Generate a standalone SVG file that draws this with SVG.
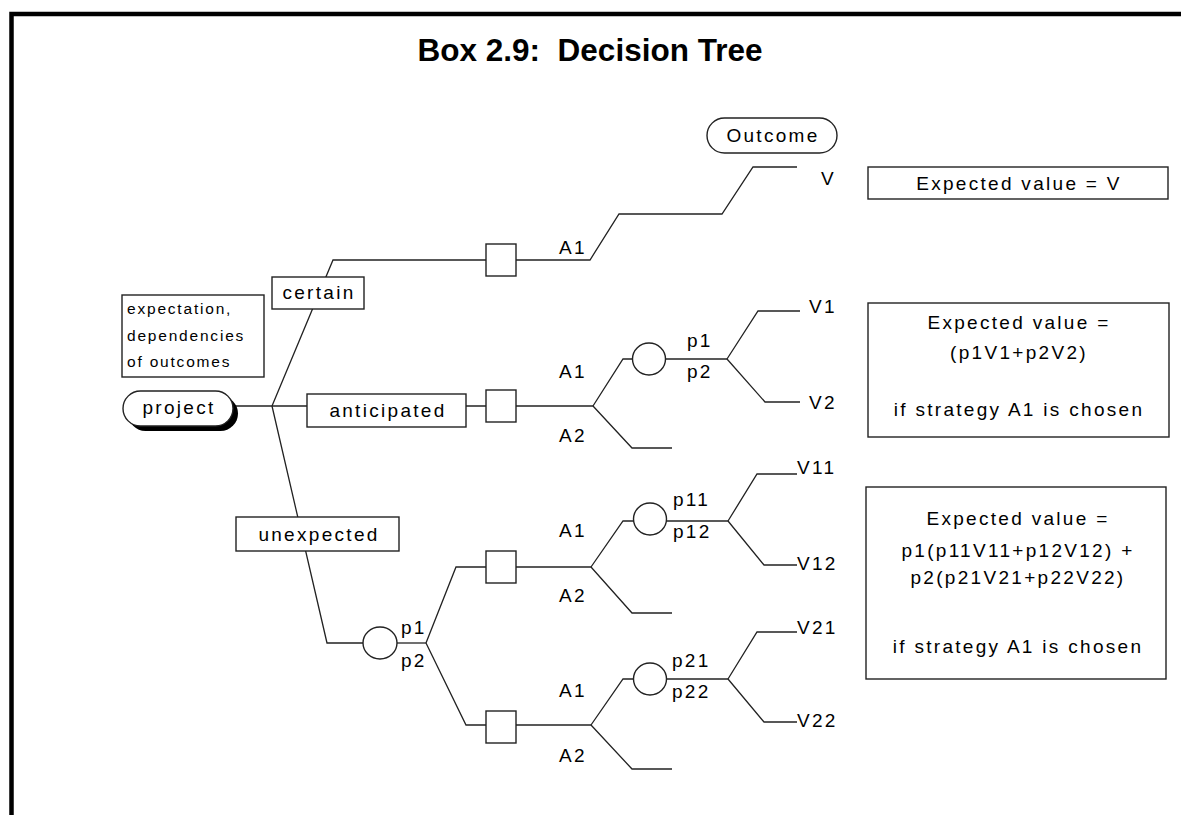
<svg xmlns="http://www.w3.org/2000/svg" width="1181" height="815" viewBox="0 0 1181 815">
<style>
.t{font-family:"Liberation Sans",Arial,sans-serif;font-size:19px;letter-spacing:2.3px;fill:#000}
.s{font-family:"Liberation Sans",Arial,sans-serif;font-size:15.5px;letter-spacing:1.8px;fill:#000}
.c{text-anchor:middle}
.title{font-family:"Liberation Sans",Arial,sans-serif;font-size:31.5px;font-weight:bold;text-anchor:middle;fill:#000}
.box{fill:#fff;stroke:#222;stroke-width:1.4}
.ln{fill:none;stroke:#222;stroke-width:1.3}
</style>
<rect x="0" y="0" width="1181" height="815" fill="#fff"/>
<path d="M11.5,815 V14 H1181" fill="none" stroke="#000" stroke-width="4.5"/>
<text class="title" x="590" y="61" xml:space="preserve">Box 2.9:  Decision Tree</text>

<g id="connectors" class="ln">
<path d="M235,406 H272"/>
<path d="M272,406 L333,260 H486"/>
<path d="M516,260 H590 L619,214 H722 L753,167 H797"/>
<path d="M272,406 H486"/>
<path d="M516,406 H593"/>
<path d="M593,406 L623,359 H633"/>
<path d="M593,406 L632,448 H672"/>
<path d="M665,359 H727"/>
<path d="M727,359 L758,311 H800"/>
<path d="M727,359 L765,402 H800"/>
<path d="M272,406 L327,643 H363"/>
<path d="M397,643 H426"/>
<path d="M426,643 L456,567 H486"/>
<path d="M426,643 L466,725 H486"/>
<path d="M516,567 H591"/>
<path d="M591,567 L623,521 H634"/>
<path d="M591,567 L632,613 H672"/>
<path d="M666,521 H728"/>
<path d="M728,521 L757,474 H797"/>
<path d="M728,521 L764,565 H797"/>
<path d="M516,725 H591"/>
<path d="M591,725 L623,679 H634"/>
<path d="M591,725 L632,769 H672"/>
<path d="M666,679 H728"/>
<path d="M728,679 L757,632 H797"/>
<path d="M728,679 L764,722 H797"/>
</g>

<g id="outcome-label">
<rect class="box" x="707" y="118" width="130" height="35" rx="17.5"/>
<text class="t c" x="773" y="142">Outcome</text>
</g>
<g id="note">
<rect class="box" x="122" y="295" width="142" height="82"/>
<text class="s" x="127" y="314">expectation,</text>
<text class="s" x="127" y="341">dependencies</text>
<text class="s" x="127" y="367">of outcomes</text>
</g>
<g id="project">
<rect x="128" y="396" width="110" height="35" rx="17.5" fill="#000"/>
<rect class="box" x="123" y="391" width="110" height="35" rx="17.5"/>
<text class="t c" x="179" y="414">project</text>
</g>
<g id="certain">
<rect class="box" x="272" y="277" width="92" height="32"/>
<text class="t c" x="319" y="299">certain</text>
</g>
<g id="anticipated">
<rect class="box" x="307" y="394" width="159" height="33"/>
<text class="t c" x="388" y="417">anticipated</text>
</g>
<g id="unexpected">
<rect class="box" x="236" y="517" width="163" height="34"/>
<text class="t c" x="319" y="541">unexpected</text>
</g>

<g id="decision-certain">
<rect class="box" x="486" y="244" width="30" height="32"/>
<text class="t" x="559" y="254">A1</text>
</g>
<g id="outcome-V">
<text class="t" x="821" y="185">V</text>
</g>

<g id="decision-anticipated">
<rect class="box" x="486" y="390" width="30" height="32"/>
<text class="t" x="559" y="378">A1</text>
<text class="t" x="559" y="442">A2</text>
</g>
<g id="chance-anticipated">
<ellipse class="box" cx="649" cy="359" rx="16.5" ry="16"/>
<text class="t" x="687" y="347">p1</text>
<text class="t" x="687" y="378">p2</text>
</g>
<g id="outcome-V1"><text class="t" x="809" y="313">V1</text></g>
<g id="outcome-V2"><text class="t" x="809" y="409">V2</text></g>

<g id="chance-unexpected">
<ellipse class="box" cx="380" cy="643" rx="17" ry="16"/>
<text class="t" x="401" y="634">p1</text>
<text class="t" x="401" y="667">p2</text>
</g>
<g id="decision-unexpected-1">
<rect class="box" x="486" y="551" width="30" height="32"/>
<text class="t" x="559" y="537">A1</text>
<text class="t" x="559" y="602">A2</text>
</g>
<g id="chance-unexpected-1">
<ellipse class="box" cx="650" cy="519" rx="16.5" ry="16"/>
<text class="t" x="673" y="506">p11</text>
<text class="t" x="673" y="538">p12</text>
</g>
<g id="outcome-V11"><text class="t" x="797" y="474">V11</text></g>
<g id="outcome-V12"><text class="t" x="797" y="570">V12</text></g>

<g id="decision-unexpected-2">
<rect class="box" x="486" y="711" width="30" height="32"/>
<text class="t" x="559" y="697">A1</text>
<text class="t" x="559" y="762">A2</text>
</g>
<g id="chance-unexpected-2">
<ellipse class="box" cx="650" cy="679" rx="16.5" ry="16"/>
<text class="t" x="672" y="667">p21</text>
<text class="t" x="672" y="698">p22</text>
</g>
<g id="outcome-V21"><text class="t" x="797" y="634">V21</text></g>
<g id="outcome-V22"><text class="t" x="797" y="727">V22</text></g>

<g id="ev-certain">
<rect class="box" x="868" y="167" width="300" height="32"/>
<text class="t c" x="1019" y="190">Expected value = V</text>
</g>
<g id="ev-anticipated">
<rect class="box" x="868" y="303" width="301" height="134"/>
<text class="t c" x="1019" y="329">Expected value =</text>
<text class="t c" x="1019" y="359">(p1V1+p2V2)</text>
<text class="t c" x="1019" y="416">if strategy A1 is chosen</text>
</g>
<g id="ev-unexpected">
<rect class="box" x="866" y="487" width="300" height="192"/>
<text class="t c" x="1018" y="525">Expected value =</text>
<text class="t c" x="1018" y="557">p1(p11V11+p12V12) +</text>
<text class="t c" x="1018" y="584">p2(p21V21+p22V22)</text>
<text class="t c" x="1018" y="653">if strategy A1 is chosen</text>
</g>
</svg>
